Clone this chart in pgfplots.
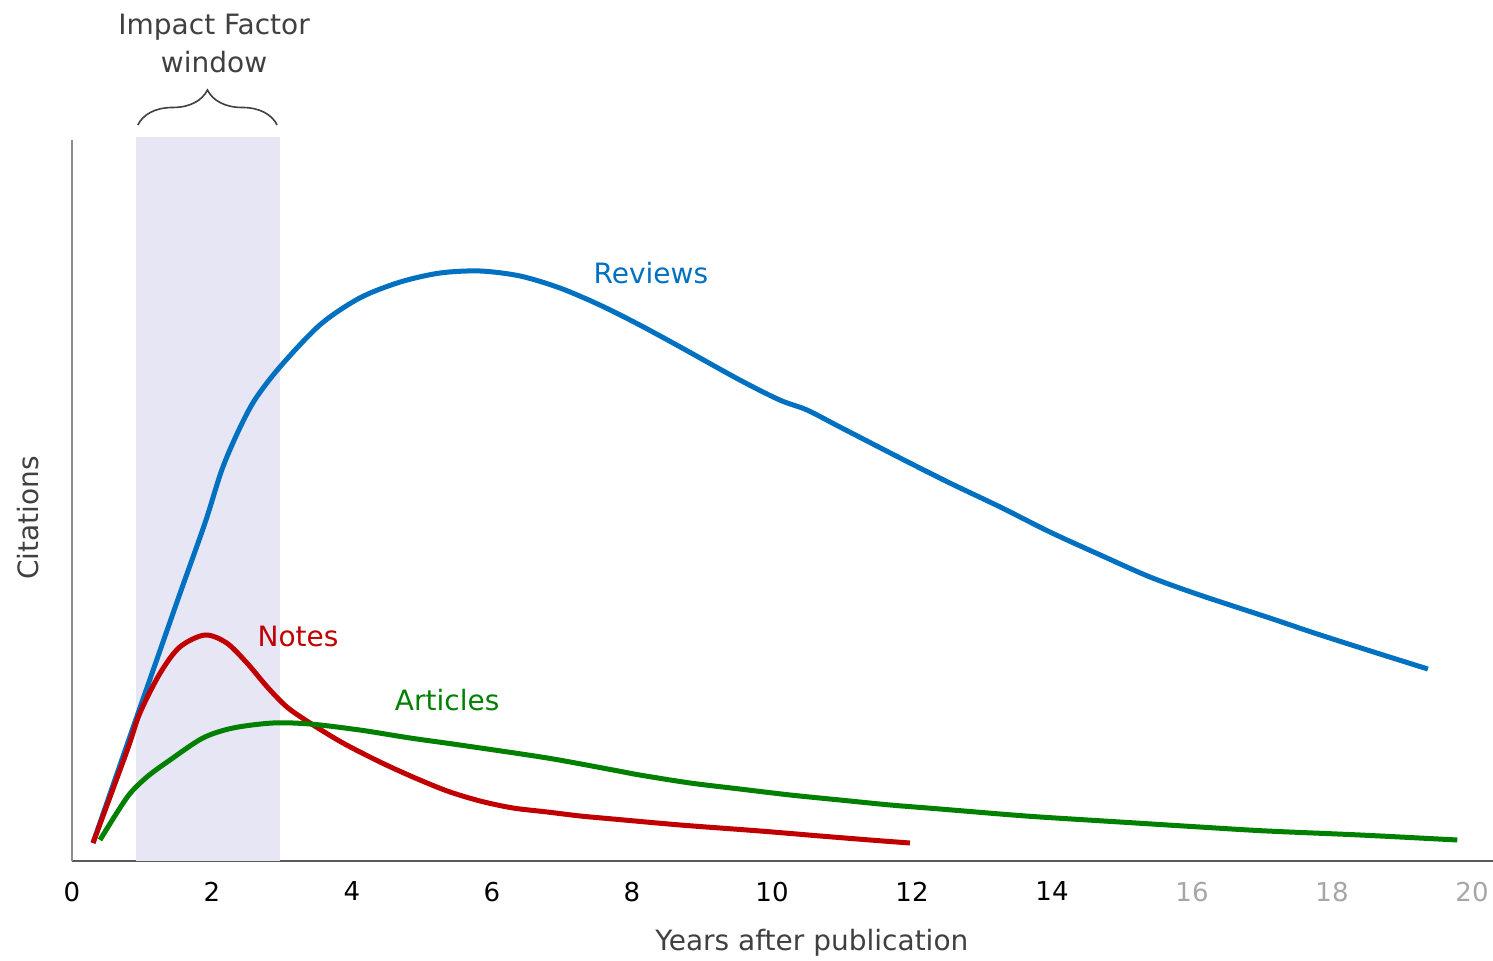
\documentclass[border=0pt]{standalone}
\usepackage{fontspec}
\setmainfont{DejaVu Sans}
\usepackage{pgfplots}
\pgfplotsset{compat=1.18}
\usetikzlibrary{decorations.pathreplacing}
\definecolor{revblue}{HTML}{0070C0}
\definecolor{notered}{HTML}{C00000}
\definecolor{artgreen}{HTML}{008000}
\definecolor{txtgray}{HTML}{404040}
\definecolor{ifshade}{HTML}{E6E6F4}
\definecolor{lightgray}{HTML}{A6A6A6}
\begin{document}
\begin{tikzpicture}
\useasboundingbox (-36bp,-50bp) rectangle (710.5bp,430.5bp);
\begin{axis}[
  scale only axis,
  width=710.5bp, height=360.5bp,
  xmin=0, xmax=20.3, ymin=0, ymax=721,
  axis x line=bottom, axis y line=left,
  axis line style={-},
  x axis line style={draw=black!65, line width=0.9bp},
  y axis line style={draw=black!45, line width=0.9bp},
  ytick=\empty,
  xtick={0,2,...,20},
  xticklabels={0,2,4,6,8,10,12,14,\textcolor{lightgray}{16},\textcolor{lightgray}{18},\textcolor{lightgray}{20}},
  major tick length=0pt,
  xticklabel style={font=\fontsize{13bp}{15bp}\selectfont, text=black, yshift=-7bp},
  /pgf/number format/assume math mode=true,
  clip=false,
]
\fill[ifshade] (axis cs:0.91,0) rectangle (axis cs:2.97,724);

\addplot[revblue, line width=2.5bp, smooth, tension=0.5] coordinates {
(0.30,18) (0.83,125) (1.11,181) (1.54,267) (1.90,338) (2.14,391) (2.37,429) (2.61,461) (2.97,494)
(3.54,536) (4.11,563) (4.69,579) (5.26,588) (5.83,590) (6.40,585) (6.97,573) (7.54,556) (8.11,536)
(8.69,514) (9.54,481) (10.11,461) (10.50,451) (10.97,434) (11.83,403) (12.54,378) (13.26,354)
(13.97,329) (14.69,306) (15.40,284) (16.11,266) (17.11,243) (17.79,227) (18.73,206) (19.37,192)
};

\addplot[notered, line width=2.5bp, smooth, tension=0.5] coordinates {
(0.30,18) (0.79,111) (0.97,148) (1.26,188) (1.54,214) (1.90,226) (2.21,218) (2.50,198) (2.79,174)
(3.07,154) (3.40,138) (3.87,118) (4.40,99) (4.87,84) (5.36,70) (5.83,60) (6.30,53) (6.79,49)
(7.26,45) (7.73,42) (8.69,36) (9.83,30) (10.69,25) (11.40,21) (11.97,18)
};

\addplot[artgreen, line width=2.5bp, smooth, tension=0.5] coordinates {
(0.40,21) (0.79,64) (1.07,84) (1.40,101) (1.87,123) (2.30,133) (2.87,138) (3.40,137) (4.11,131)
(4.83,123) (5.54,116) (6.79,103) (7.73,91) (8.11,86) (8.83,78) (9.54,72) (10.26,66) (10.97,61)
(11.69,56) (12.40,52) (13.26,47) (13.83,44) (14.97,39) (16.11,34) (17.07,30) (18.40,26) (19.79,21)
};

\draw[txtgray, line width=0.8bp, decorate, decoration={brace, amplitude=17.5bp}]
  (axis cs:0.94,736) -- (axis cs:2.93,736);
\node[txtgray, align=center, font=\fontsize{14bp}{19bp}\selectfont] at (axis cs:2.03,817) {Impact Factor\\window};

\node[revblue, font=\fontsize{14bp}{17bp}\selectfont] at (axis cs:8.27,588) {Reviews};
\node[notered, font=\fontsize{14bp}{17bp}\selectfont] at (axis cs:3.23,225) {Notes};
\node[artgreen, font=\fontsize{14bp}{17bp}\selectfont] at (axis cs:5.36,161) {Articles};

\node[txtgray, rotate=90, font=\fontsize{14bp}{17bp}\selectfont] at (axis cs:-0.63,343) {Citations};
\node[txtgray, font=\fontsize{14bp}{17bp}\selectfont] at (axis cs:10.57,-82) {Years after publication};
\end{axis}
\end{tikzpicture}
\end{document}
